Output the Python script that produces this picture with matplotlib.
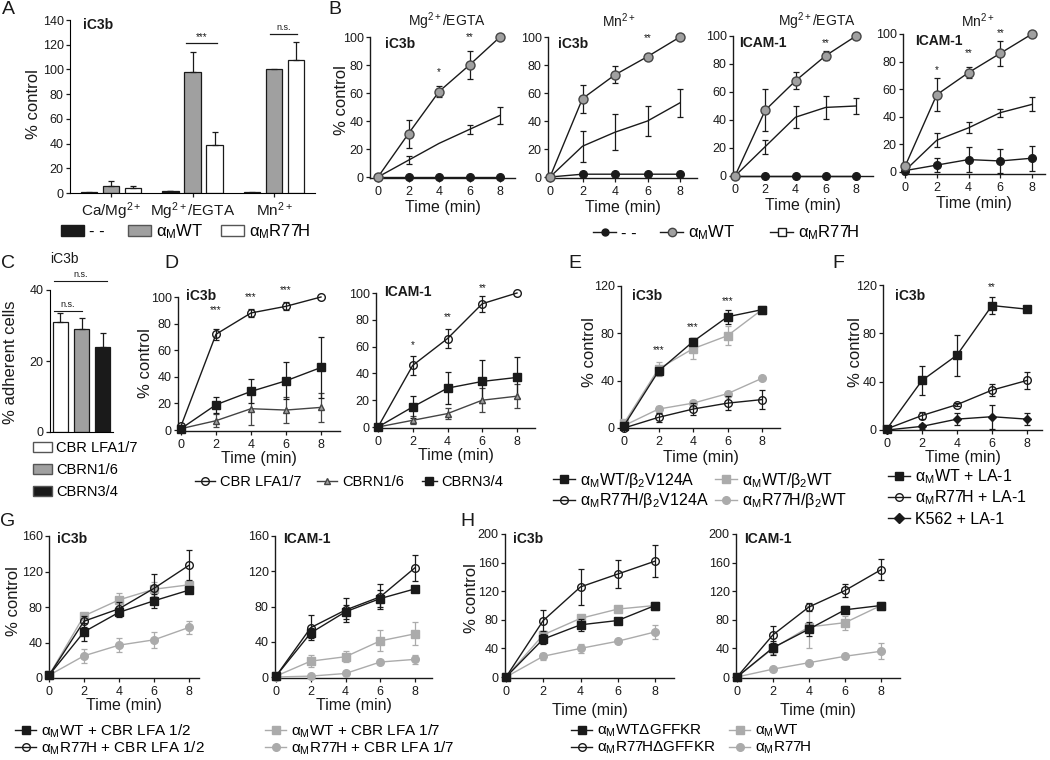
import numpy as np
import matplotlib
matplotlib.use("Agg")
import matplotlib.pyplot as plt
from matplotlib.lines import Line2D
from matplotlib.patches import Patch

plt.rcParams["font.family"] = ["Liberation Sans", "DejaVu Sans"]
plt.rcParams["mathtext.fontset"] = "custom"
plt.rcParams["mathtext.rm"] = "Liberation Sans"
plt.rcParams["mathtext.it"] = "Liberation Sans:italic"
plt.rcParams["mathtext.bf"] = "Liberation Sans:bold"

# ---------------- datos ----------------
time = [0, 2, 4, 6, 8]
M = "$_{\\rm M}$"

# A: adhesion a iC3b por condicion de cationes
a_conditions = ["Ca/Mg$^{2+}$", "Mg$^{2+}$/EGTA", "Mn$^{2+}$"]
a_mock = [1, 1.5, 0.5]
a_mock_err = [0, 0.5, 0]
a_wt = [6, 98, 100]
a_wt_err = [3.5, 16, 0]
a_r77h = [4, 39, 108]
a_r77h_err = [2, 10, 14]

# B: cinetica, 4 paneles
b_titles = ["Mg$^{2+}$/EGTA", "Mn$^{2+}$", "Mg$^{2+}$/EGTA", "Mn$^{2+}$"]
b_ligands = ["iC3b", "iC3b", "ICAM-1", "ICAM-1"]
b_wt = [[0, 31, 61, 80, 100], [0, 56, 73, 86, 100], [0, 47, 68, 86, 100], [4, 56, 72, 86, 100]]
b_wt_err = [[0, 10, 4, 10, 0], [0, 10, 6, 2, 0], [0, 15, 6, 3, 0], [0, 12, 4, 9, 0]]
b_r77h = [[0, 12, 24, 34, 44], [0, 22, 32, 40, 53], [0, 21, 42, 49, 50], [1, 23, 32, 43, 49]]
b_r77h_err = [[0, 3, 0, 3, 6], [0, 11, 13, 11, 10], [0, 5, 8, 8, 6], [0, 5, 4, 3, 5]]
b_mock = [[0, 0, 0, 0, 0], [0, 2, 2, 2, 2], [0, 0, 0, 0, 0], [1, 5, 9, 8, 10]]
b_mock_err = [[0, 0, 0, 0, 0], [0, 0, 0, 0, 0], [0, 0, 0, 0, 0], [0, 5, 9, 9, 9]]
b_stars = [[(4, "*", 75), (6, "**", 100)], [(6, "**", 99)], [(6, "**", 95)],
           [(2, "*", 74), (4, "**", 86), (6, "**", 101)]]

# C: celulas adherentes
c_labels = ["CBR LFA1/7", "CBRN1/6", "CBRN3/4"]
c_values = [31, 29, 24]
c_err = [2.5, 3, 4]

# D
d_ligands = ["iC3b", "ICAM-1"]
d_lfa17 = [[3, 72, 88, 93, 100], [0, 46, 66, 92, 100]]
d_lfa17_err = [[0, 4, 3, 3, 0], [0, 7, 7, 6, 0]]
d_n16 = [[1, 7, 16, 15, 17], [0, 5, 10, 20, 23]]
d_n16_err = [[0, 5, 12, 10, 11], [0, 3, 4, 9, 9]]
d_n34 = [[1, 19, 29, 37, 47], [0, 15, 29, 34, 37]]
d_n34_err = [[0, 6, 9, 14, 23], [0, 8, 12, 16, 15]]
d_stars = [[(2, "***", 90), (4, "***", 100), (6, "***", 105)],
           [(2, "*", 61), (4, "**", 82), (6, "**", 104)]]

# E
e_wt_v124a = [2, 48, 73, 94, 100]
e_wt_v124a_err = [0, 3, 3, 6, 0]
e_wt_wt = [4, 50, 67, 78, 100]
e_wt_wt_err = [0, 6, 9, 8, 0]
e_r77h_v124a = [0, 9, 16, 21, 24]
e_r77h_v124a_err = [0, 4, 5, 6, 8]
e_r77h_wt = [2, 16, 21, 29, 42]
e_r77h_wt_err = [0, 3, 1, 2, 1]
e_stars = [(2, "***", 66), (4, "***", 85), (6, "***", 107)]

# F
f_wt = [1, 41, 62, 103, 100]
f_wt_err = [0, 12, 17, 7, 0]
f_r77h = [1, 12, 21, 33, 41]
f_r77h_err = [0, 3, 1, 5, 7]
f_k562 = [0, 3, 9, 11, 9]
f_k562_err = [0, 2, 5, 10, 5]
f_stars = [(6, "**", 118)]

# G
g_ligands = ["iC3b", "ICAM-1"]
g_wt_12 = [[3, 52, 74, 87, 99], [1, 50, 74, 89, 100]]
g_wt_12_err = [[0, 10, 5, 8, 0], [0, 6, 8, 10, 0]]
g_r77h_12 = [[3, 64, 78, 101, 127], [1, 56, 76, 91, 124]]
g_r77h_12_err = [[0, 6, 8, 16, 17], [0, 14, 14, 14, 15]]
g_wt_17 = [[3, 70, 88, 100, 105], [1, 18, 23, 41, 49]]
g_wt_17_err = [[0, 3, 8, 8, 4], [0, 7, 6, 12, 13]]
g_r77h_17 = [[3, 25, 37, 43, 57], [0, 1, 4, 17, 20]]
g_r77h_17_err = [[0, 8, 8, 9, 7], [0, 0, 0, 0, 5]]

# H
h_ligands = ["iC3b", "ICAM-1"]
h_wt_d = [[0, 53, 73, 79, 100], [0, 41, 67, 94, 100]]
h_wt_d_err = [[0, 7, 8, 4, 0], [0, 10, 10, 5, 0]]
h_r77h_d = [[0, 79, 126, 144, 162], [0, 59, 98, 121, 150]]
h_r77h_d_err = [[0, 15, 25, 20, 22], [0, 12, 6, 9, 15]]
h_wt = [[0, 59, 82, 95, 100], [0, 40, 70, 76, 100]]
h_wt_err = [[0, 5, 5, 0, 0], [0, 8, 30, 10, 0]]
h_r77h = [[0, 29, 40, 50, 63], [0, 11, 20, 29, 36]]
h_r77h_err = [[0, 5, 6, 0, 10], [0, 0, 0, 0, 11]]

# ---------------- estilo ----------------
INK = "#1a1a1a"
GREY = "#a0a0a0"
LGREY = "#ababab"
W, H = 1050, 760
fig = plt.figure(figsize=(W / 100, H / 100), dpi=100)


def nozero(err):
    e = np.array(err, dtype=float)
    e[e == 0] = np.nan
    return e


def new_ax(left, top, right, bottom, x0, x8, zero, ymax, yticks):
    """ejes colocados en pixeles; x0/x8 y zero son los pixeles de t=0, t=8 y y=0"""
    ax = fig.add_axes([left / W, 1 - bottom / H, (right - left) / W, (bottom - top) / H])
    u = (x8 - x0) / 8
    ax.set_xlim((left - x0) / u, 8 + (right - x8) / u)
    v = (zero - top) / ymax
    ax.set_ylim(-(bottom - zero) / v, ymax)
    ax.set_yticks(yticks)
    ax.set_xticks(time)
    for s in ["top", "right"]:
        ax.spines[s].set_visible(False)
    for s in ["left", "bottom"]:
        ax.spines[s].set_linewidth(1)
        ax.spines[s].set_color(INK)
    ax.tick_params(direction="out", length=3, width=0.9, labelsize=9, colors=INK, pad=1.5)
    ax.tick_params(axis="x", pad=3)
    return ax


def draw(ax, y, err, color=INK, marker="o", mfc=None, mec=None, ms=5.5, z=3):
    c = ax.errorbar(time, y, yerr=nozero(err), color=color, marker=marker, ms=ms,
                    mfc=color if mfc is None else mfc, mec=color if mec is None else mec,
                    lw=1, elinewidth=0.9, capsize=2.5, capthick=0.9, zorder=z)
    c.lines[0].set_clip_on(False)
    for a in list(c.lines[1]) + list(c.lines[2]):
        a.set_clip_on(False)


def stars(ax, items):
    for x, s, y in items:
        ax.text(x, y, s, ha="center", va="center", fontsize=7, color=INK, clip_on=False)


def ftext(x, y, s, **kw):
    kw.setdefault("ha", "center")
    kw.setdefault("va", "center")
    kw.setdefault("color", INK)
    fig.text(x / W, 1 - y / H, s, **kw)


def ylab(x, y, s="% control", size=12):
    ftext(x, y, s, rotation=90, fontsize=size)


def key(handle, label, x, y, size=11.5, hl=1.4):
    fig.legend([handle], [label], loc="center left", bbox_to_anchor=(x / W, 1 - y / H),
               frameon=False, fontsize=size, handlelength=hl, handletextpad=0.3,
               borderpad=0, borderaxespad=0, handleheight=0.65)


def lh(color=INK, marker="o", mfc=None, mec=None, ms=5.5):
    return Line2D([], [], color=color, lw=1, marker=marker, ms=ms,
                  mfc=color if mfc is None else mfc, mec=color if mec is None else mec)


# ---------------- A ----------------
axA = fig.add_axes([70 / W, 1 - 193 / H, 245 / W, 173 / H])
axA.set_xlim(-0.5, 2.5)
axA.set_ylim(0, 140)
xa = np.arange(len(a_conditions))
off, bw = 0.27, 0.2
ekw = dict(capsize=2.5, elinewidth=0.9, capthick=0.9, ecolor=INK)
for dx, vals, errs, fc in [(-off, a_mock, a_mock_err, INK), (0, a_wt, a_wt_err, GREY),
                           (off, a_r77h, a_r77h_err, "white")]:
    e = nozero(errs)
    axA.bar(xa + dx, vals, bw, yerr=[np.zeros(3), e], color=fc, edgecolor=INK,
            linewidth=0.9, error_kw=ekw)
axA.set_xticks(xa, a_conditions)
axA.set_yticks(range(0, 141, 20))
for s in ["top", "right"]:
    axA.spines[s].set_visible(False)
axA.tick_params(direction="out", length=3, width=0.9, labelsize=9, colors=INK, pad=1.5)
axA.tick_params(axis="x", labelsize=11, pad=2)
axA.plot([0.92, 1.3], [121, 121], color=INK, lw=0.9)
axA.text(1.11, 122, "***", ha="center", va="bottom", fontsize=7, color=INK)
axA.plot([1.95, 2.28], [129, 129], color=INK, lw=0.9, clip_on=False)
axA.text(2.12, 130, "n.s.", ha="center", va="bottom", fontsize=6.5, color=INK)
ftext(8, 10, "A", fontsize=14)
ylab(33, 104)
ftext(83, 25, "iC3b", ha="left", fontsize=10, fontweight="bold")
key(Patch(facecolor=INK, edgecolor=INK), "- -", 61, 232, size=12)
key(Patch(facecolor=GREY, edgecolor="#555"), "α" + M + "WT", 128, 232, size=12)
key(Patch(facecolor="white", edgecolor="#555"), "α" + M + "R77H", 221, 232, size=12)

# ---------------- B ----------------
b_box = [(370, 37, 515, 178, 378, 500, 177), (548, 37, 697, 178, 550, 680, 177),
         (733, 36, 873, 176, 735, 856, 176), (903, 34, 1045, 174, 905, 1032, 172)]
b_title_x = [447, 619, 817, 978]
b_label_dx = [15, 10, 6, 12]
for i, (l, t, r, b, x0, x8, z0) in enumerate(b_box):
    ax = new_ax(l, t, r, b, x0, x8, z0, 100, range(0, 101, 20))
    draw(ax, b_mock[i], b_mock_err[i], ms=5.5)
    draw(ax, b_r77h[i], b_r77h_err[i], marker="", z=2)
    draw(ax, b_wt[i], b_wt_err[i], mfc=GREY, mec="#444", ms=6.5, z=4)
    stars(ax, b_stars[i])
    ax.set_xlabel("Time (min)", fontsize=11.5, labelpad=1, color=INK)
    ftext(b_title_x[i], 21, b_titles[i], fontsize=10)
    ftext(l + b_label_dx[i], t + 7, b_ligands[i], ha="left", fontsize=10, fontweight="bold")
ftext(335, 9, "B", fontsize=14)
ylab(342, 100)
key(lh(ms=5), "- -", 593, 233, size=12)
key(lh(mfc=GREY, mec="#444", ms=6), "α" + M + "WT", 660, 233, size=12)
key(lh(marker="s", mfc="white", ms=5.5), "α" + M + "R77H", 770, 233, size=12)

# ---------------- C ----------------
axC = fig.add_axes([50 / W, 1 - 432 / H, 63 / W, 142 / H])
axC.set_xlim(-0.47, 2.47)
axC.set_ylim(0, 40)
axC.bar(range(3), c_values, 0.7, yerr=[np.zeros(3), c_err], color=["white", GREY, INK],
        edgecolor=INK, linewidth=0.9, error_kw=ekw)
axC.set_xticks([])
axC.set_yticks([0, 20, 40])
for s in ["top", "right"]:
    axC.spines[s].set_visible(False)
axC.tick_params(direction="out", length=3, width=0.9, labelsize=9, colors=INK, pad=1.5)
axC.plot([-0.3, 1.0], [34, 34], color=INK, lw=0.8, clip_on=False)
axC.text(0.35, 34.6, "n.s.", ha="center", va="bottom", fontsize=6.5, color=INK)
axC.plot([-0.3, 2.2], [42.5, 42.5], color=INK, lw=0.8, clip_on=False)
axC.text(0.95, 43.1, "n.s.", ha="center", va="bottom", fontsize=6.5, color=INK)
ftext(8, 264, "C", fontsize=14)
ftext(64, 259, "iC3b", fontsize=10)
ylab(11, 362, "% adherent cells", size=12)
for j, fc in enumerate(["white", GREY, INK]):
    key(Patch(facecolor=fc, edgecolor="#555"), c_labels[j], 33, 448 + 22 * j, size=10.5, hl=1.3)

# ---------------- D ----------------
d_box = [(178, 297, 340, 431, 181, 321, 430), (376, 293, 535, 428, 378, 517, 427)]
for i, (l, t, r, b, x0, x8, z0) in enumerate(d_box):
    ax = new_ax(l, t, r, b, x0, x8, z0, 100, range(0, 101, 20))
    draw(ax, d_n16[i], d_n16_err[i], color="#444", marker="^", mfc=GREY, mec="#444", ms=5)
    draw(ax, d_n34[i], d_n34_err[i], marker="s", ms=5.5)
    draw(ax, d_lfa17[i], d_lfa17_err[i], mfc="none", ms=5.5, z=4)
    stars(ax, d_stars[i])
    ax.set_xlabel("Time (min)", fontsize=11.5, labelpad=0, color=INK)
    ftext(l + 8, t - 1, d_ligands[i], ha="left", fontsize=10, fontweight="bold")
ftext(171, 264, "D", fontsize=14)
ylab(146, 363)
key(lh(mfc="none"), "CBR LFA1/7", 195, 482, size=10.5)
key(lh(color="#444", marker="^", mfc=GREY, ms=5), "CBRN1/6", 317, 482, size=10.5)
key(lh(marker="s"), "CBRN3/4", 422, 482, size=10.5, hl=1.0)

# ---------------- E ----------------
axE = new_ax(621, 286, 780, 428, 624, 762, 428, 120, range(0, 121, 40))
draw(axE, e_r77h_wt, e_r77h_wt_err, color=LGREY)
draw(axE, e_wt_wt, e_wt_wt_err, color=LGREY, marker="s")
draw(axE, e_r77h_v124a, e_r77h_v124a_err, mfc="none", z=4)
draw(axE, e_wt_v124a, e_wt_v124a_err, marker="s", z=4)
stars(axE, e_stars)
axE.set_xlabel("Time (min)", fontsize=11.5, labelpad=1, color=INK)
ftext(632, 296, "iC3b", ha="left", fontsize=10, fontweight="bold")
ftext(575, 264, "E", fontsize=14)
ylab(590, 352)
key(lh(marker="s"), "α" + M + "WT/β$_2$V124A", 553, 480)
key(lh(mfc="none"), "α" + M + "R77H/β$_2$V124A", 553, 501)
key(lh(color=LGREY, marker="s"), "α" + M + "WT/β$_2$WT", 715, 480)
key(lh(color=LGREY), "α" + M + "R77H/β$_2$WT", 715, 501)

# ---------------- F ----------------
axF = new_ax(883, 285, 1042, 430, 887, 1027, 430, 120, range(0, 121, 40))
draw(axF, f_k562, f_k562_err, marker="D", ms=4.5)
draw(axF, f_r77h, f_r77h_err, mfc="none", z=4)
draw(axF, f_wt, f_wt_err, marker="s", z=4)
stars(axF, f_stars)
axF.set_xlabel("Time (min)", fontsize=11.5, labelpad=0, color=INK)
ftext(895, 296, "iC3b", ha="left", fontsize=10, fontweight="bold")
ftext(838, 264, "F", fontsize=14)
ylab(855, 352)
key(lh(marker="s"), "α" + M + "WT + LA-1", 888, 477)
key(lh(mfc="none"), "α" + M + "R77H + LA-1", 888, 498)
key(lh(marker="D", ms=5), "K562 + LA-1", 888, 519)

# ---------------- G ----------------
g_box = [(49, 536, 199, 678, 49, 189, 678), (275, 536, 432, 678, 276, 415, 677)]
for i, (l, t, r, b, x0, x8, z0) in enumerate(g_box):
    ax = new_ax(l, t, r, b, x0, x8, z0, 160, range(0, 161, 40))
    draw(ax, g_r77h_17[i], g_r77h_17_err[i], color=LGREY)
    draw(ax, g_wt_17[i], g_wt_17_err[i], color=LGREY, marker="s")
    draw(ax, g_wt_12[i], g_wt_12_err[i], marker="s", z=4)
    draw(ax, g_r77h_12[i], g_r77h_12_err[i], mfc="none", z=4)
    ax.set_xlabel("Time (min)", fontsize=11.5, labelpad=0, color=INK)
    ftext(l + 8, t + 3, g_ligands[i], ha="left", fontsize=10, fontweight="bold")
ftext(8, 521, "G", fontsize=14)
ylab(13, 601)
key(lh(marker="s"), "α" + M + "WT + CBR LFA 1/2", 15, 731, size=11)
key(lh(mfc="none"), "α" + M + "R77H + CBR LFA 1/2", 15, 748, size=11)
key(lh(color=LGREY, marker="s"), "α" + M + "WT + CBR LFA 1/7", 265, 731, size=11)
key(lh(color=LGREY), "α" + M + "R77H + CBR LFA 1/7", 265, 748, size=11)

# ---------------- H ----------------
h_box = [(505, 534, 674, 678, 506, 655, 677), (736, 534, 900, 678, 737, 881, 677)]
for i, (l, t, r, b, x0, x8, z0) in enumerate(h_box):
    ax = new_ax(l, t, r, b, x0, x8, z0, 200, range(0, 201, 40))
    draw(ax, h_r77h[i], h_r77h_err[i], color=LGREY)
    draw(ax, h_wt[i], h_wt_err[i], color=LGREY, marker="s")
    draw(ax, h_wt_d[i], h_wt_d_err[i], marker="s", z=4)
    draw(ax, h_r77h_d[i], h_r77h_d_err[i], mfc="none", z=4)
    ax.set_xlabel("Time (min)", fontsize=11.5, labelpad=3, color=INK)
    ftext(l + 8, t + 5, h_ligands[i], ha="left", fontsize=10, fontweight="bold")
ftext(467, 521, "H", fontsize=14)
ylab(471, 598)
key(lh(marker="s"), "α" + M + "WTΔGFFKR", 571, 731, size=11)
key(lh(mfc="none"), "α" + M + "R77HΔGFFKR", 571, 748, size=11)
key(lh(color=LGREY, marker="s"), "α" + M + "WT", 729, 731, size=11)
key(lh(color=LGREY), "α" + M + "R77H", 729, 748, size=11)

fig.savefig("out.png", dpi=100)
